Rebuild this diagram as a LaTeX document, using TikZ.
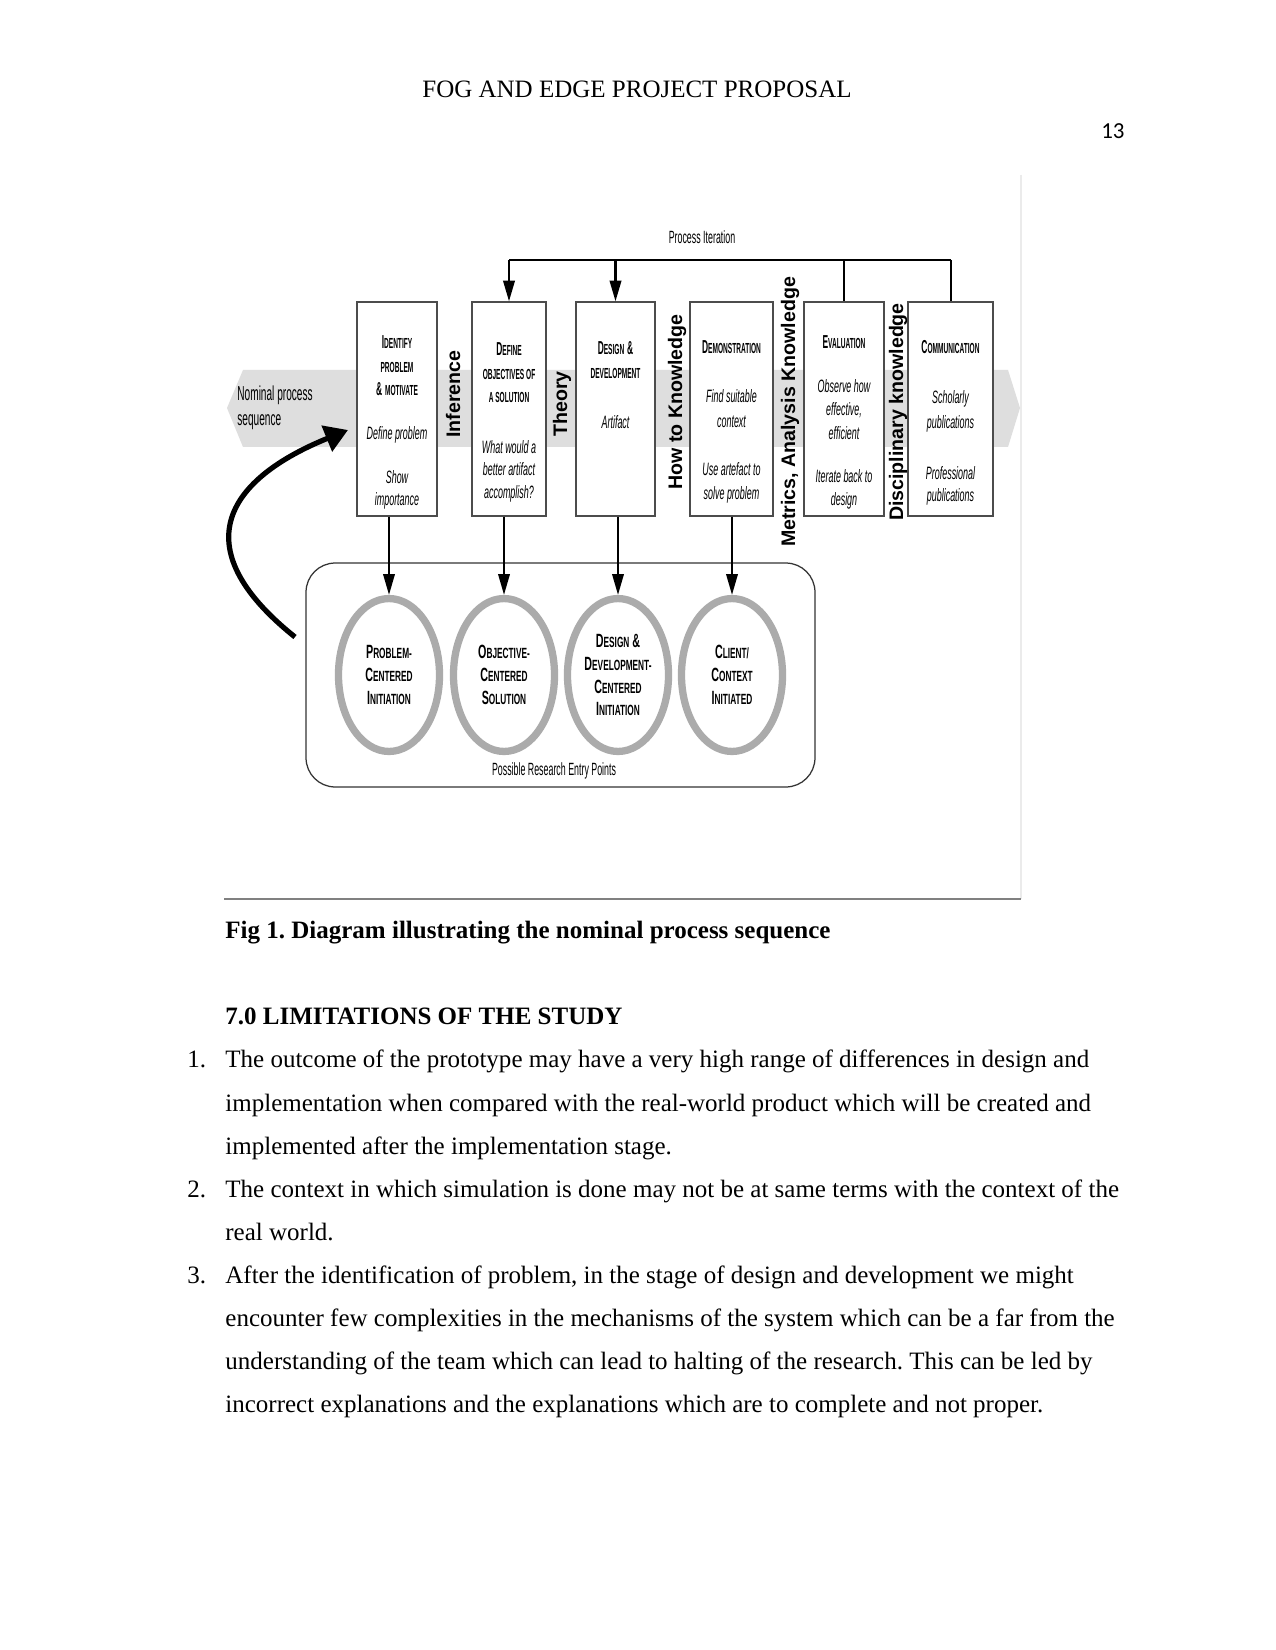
\documentclass[tikz,border=0pt]{standalone}
\usepackage{fontspec}
\setmainfont{Liberation Serif}
\newfontfamily\nar[FakeStretch=0.5]{Liberation Sans}
\newfontfamily\nart[FakeStretch=0.45]{Liberation Sans}
\newfontfamily\narc[FakeStretch=0.56]{Liberation Sans}
\newfontfamily\hel{Liberation Sans}
\newfontfamily\pgnumfont{Carlito}
\usetikzlibrary{arrows.meta,shapes.geometric}
\frenchspacing
\newcommand\capB[1]{{\nart\fontsize{9}{10}\selectfont\bfseries #1}}
\newcommand\capS[1]{{\nart\fontsize{7}{8}\selectfont\bfseries #1}}
\newcommand\cirB[1]{{\fontsize{9.2}{11}\selectfont #1}}
\newcommand\cirS[1]{{\fontsize{7.1}{11}\selectfont #1}}
\newcommand\ti[1]{{\fontsize{8.6}{10}\selectfont\itshape #1}}
\newcommand\boxlines[3]{\foreach \t/\y [count=\i] in {#3}{\node[txt] (#1-\i) at (#2,\y+6) {\t};}}
\begin{document}
\begin{tikzpicture}[x=0.48pt,y=-0.48pt,
 txt/.style={inner sep=0pt,anchor=base,font=\nar},
 vlab/.style={inner sep=0pt,anchor=base,rotate=90,font=\hel\bfseries\fontsize{9.4}{11}\selectfont},
 stage/.style={draw=black!70,line width=0.6pt,fill=white,inner sep=0pt,minimum height=102.7pt},
 entry/.style={ellipse,draw=black!33,line width=3.5pt,fill=white,inner sep=0pt,minimum width=48.5pt,minimum height=73.4pt,align=center,font=\narc\bfseries\fontsize{9}{11}\selectfont},
 arr/.style={line width=1pt,-{Triangle[width=5.5pt,length=10pt]}},
 body/.style={inner sep=0pt,anchor=base west,font=\fontsize{12}{14}\selectfont}]
\fill[white] (0,0) rectangle (1275,1650);
\useasboundingbox (0,0) rectangle (1275,1650);

% header
\node[inner sep=0pt,anchor=base,font=\fontsize{12}{14}\selectfont] (hdr) at (637,98) {FOG AND EDGE PROJECT PROPOSAL};
\node[inner sep=0pt,anchor=base east,font=\pgnumfont\fontsize{11}{13}\selectfont] (pg) at (1125,139) {13};

% figure frame
\draw[black!8,line width=0.5pt] (1021,175) -- (1021,899);
\draw[black!50,line width=0.8pt] (224,899) -- (1021,899);

% gray band
\fill[black!13] (227,408) -- (243,370) -- (1008,370) -- (1020,408) -- (1008,447) -- (243,447) -- cycle;
\node[txt,anchor=base west,font=\nar\fontsize{9.7}{11}\selectfont] (nom1) at (237,401) {Nominal process};
\node[txt,anchor=base west,font=\nar\fontsize{9.7}{11}\selectfont] (nom2) at (237,426) {sequence};

% stage boxes
\node[stage,minimum width=38.4pt] (b1) at (397,409) {};
\node[stage,minimum width=35.5pt] (b2) at (509,409) {};
\node[stage,minimum width=37.9pt] (b3) at (615.5,409) {};
\node[stage,minimum width=39.8pt] (b4) at (731.5,409) {};
\node[stage,minimum width=38.4pt] (b5) at (844,409) {};
\node[stage,minimum width=40.8pt] (b6) at (950.5,409) {};

\boxlines{b1t}{397}{{\capB{I}\capS{DENTIFY}}/343,{\capS{PROBLEM}}/367,{\capB{\&} \capS{MOTIVATE}}/390,{\ti{Define problem}}/433,{\ti{Show}}/477,{\ti{importance}}/499}
\boxlines{b2t}{509}{{\capB{D}\capS{EFINE}}/350,{\capS{OBJECTIVES OF}}/374,{\capS{A SOLUTION}}/397,{\ti{What would a}}/447,{\ti{better artifact}}/470,{\ti{accomplish?}}/492}
\boxlines{b3t}{615.5}{{\capB{D}\capS{ESIGN} \capB{\&}}/349,{\capS{DEVELOPMENT}}/373,{\ti{Artifact}}/423}
\boxlines{b4t}{731.5}{{\capB{D}\capS{EMONSTRATION}}/348,{\ti{Find suitable}}/397,{\ti{context}}/422,{\ti{Use artefact to}}/470,{\ti{solve problem}}/493}
\boxlines{b5t}{844}{{\capB{E}\capS{VALUATION}}/343,{\ti{Observe how}}/387,{\ti{effective,}}/410,{\ti{efficient}}/433,{\ti{Iterate back to}}/476,{\ti{design}}/499}
\boxlines{b6t}{950.5}{{\capB{C}\capS{OMMUNICATION}}/348,{\ti{Scholarly}}/398,{\ti{publications}}/423,{\ti{Professional}}/473,{\ti{publications}}/495}

% vertical knowledge labels
\node[vlab] (inf) at (460,394) {Inference};
\node[vlab] (theo) at (567,404) {Theory};
\node[vlab] (how) at (682,402) {How to Knowledge};
\node[vlab] (met) at (795,412) {Metrics, Analysis Knowledge};
\node[vlab] (dis) at (903,412) {Disciplinary knowledge};

% process iteration
\node[txt,font=\nar\fontsize{8.5}{10}\selectfont] (pi) at (702,244) {Process Iteration};
\coordinate (itL) at (509,260);
\coordinate (itR) at (951,260);
\draw[line width=1.4pt] (itL) -- (itR);
\draw[arr,line width=1.2pt] (itL) -- (b2.north);
\draw[arr,line width=1.2pt] (b3.north |- itL) -- (b3.north);
\draw[line width=1.2pt] (b5.north |- itL) -- (b5.north);
\draw[line width=1.2pt] (itR) -- (itR |- b6.north);

% entry points container
\node[draw=black!80,line width=0.6pt,rounded corners=14pt,minimum width=244.3pt,minimum height=107.5pt,inner sep=0pt] (cont) at (560.5,675) {};
\node[entry] (c1) at (389,675) {\cirB{P}\cirS{ROBLEM-}\\ \cirB{C}\cirS{ENTERED}\\ \cirB{I}\cirS{NITIATION}};
\node[entry] (c2) at (504,675) {\cirB{O}\cirS{BJECTIVE-}\\ \cirB{C}\cirS{ENTERED}\\ \cirB{S}\cirS{OLUTION}};
\node[entry] (c3) at (618,675) {\cirB{D}\cirS{ESIGN} \cirB{\&}\\ \cirB{D}\cirS{EVELOPMENT-}\\ \cirB{C}\cirS{ENTERED}\\ \cirB{I}\cirS{NITIATION}};
\node[entry] (c4) at (732,675) {\cirB{C}\cirS{LIENT/}\\ \cirB{C}\cirS{ONTEXT}\\ \cirB{I}\cirS{NITIATED}};
\node[txt,font=\nar\fontsize{8.5}{10}\selectfont] (pre) at (554,775) {Possible Research Entry Points};

\draw[arr] (c1.north |- b1.south) -- (c1.north);
\draw[arr] (c2.north |- b2.south) -- (c2.north);
\draw[arr] (c3.north |- b3.south) -- (c3.north);
\draw[arr] (c4.north |- b4.south) -- (c4.north);

% curved arrow
\coordinate (cs) at (295,637);
\coordinate (ce) at (348,430);
\draw[line width=2.5pt,-{Triangle[width=13pt,length=11pt]}] (cs) .. controls (180,545) and (230,478) .. (ce);

% caption and text
\node[body,font=\bfseries\fontsize{12}{14}\selectfont] (cap) at (225,938) {Fig 1. Diagram illustrating the nominal process sequence};
\node[body,font=\bfseries\fontsize{12}{14}\selectfont] (head) at (225,1024) {7.0 LIMITATIONS OF THE STUDY};
\node[body] (n1) at (187,1067) {1.};
\node[body] (n2) at (187,1197) {2.};
\node[body] (n3) at (187,1283) {3.};
\foreach \t/\y [count=\i] in {
 {The outcome of the prototype may have a very high range of differences in design and}/1067,
 {implementation when compared with the real-world product which will be created and}/1111,
 {implemented after the implementation stage.}/1154,
 {The context in which simulation is done may not be at same terms with the context of the}/1197,
 {real world.}/1240,
 {After the identification of problem, in the stage of design and development we might}/1283,
 {encounter few complexities in the mechanisms of the system which can be a far from the}/1326,
 {understanding of the team which can lead to halting of the research. This can be led by}/1369,
 {incorrect explanations and the explanations which are to complete and not proper.}/1412}
 {\node[body] (l\i) at (225,\y) {\t};}
\end{tikzpicture}
\end{document}
